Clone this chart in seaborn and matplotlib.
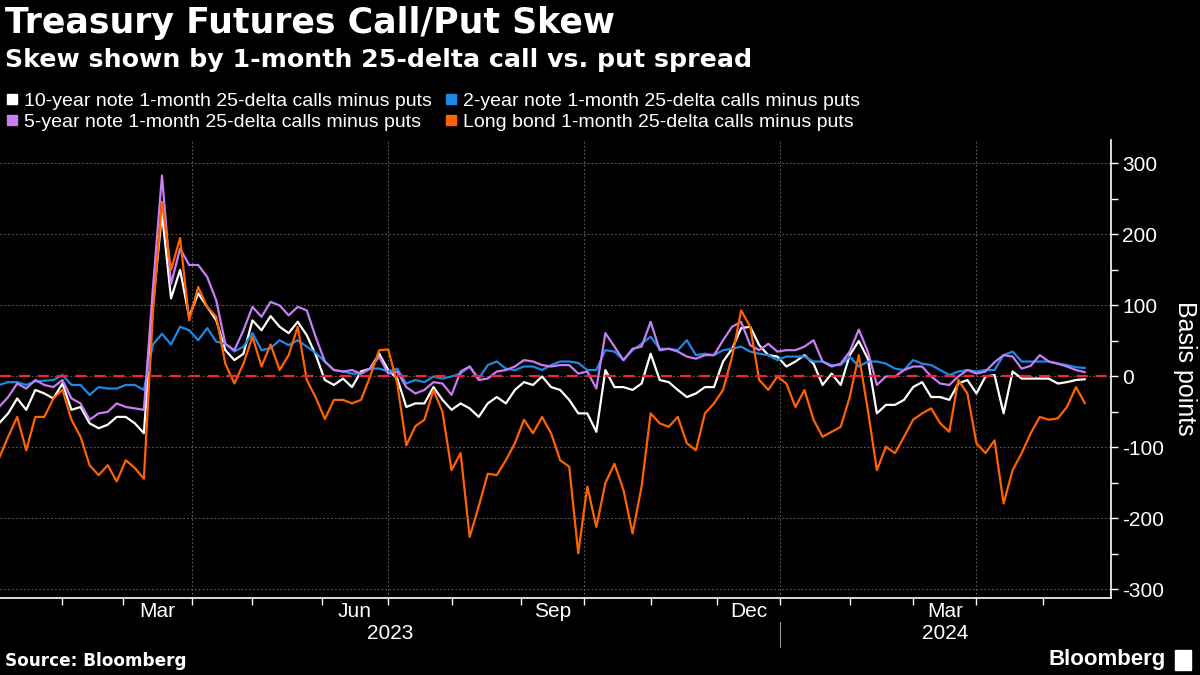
import numpy as np
import pandas as pd
import matplotlib
matplotlib.use("Agg")
import matplotlib.pyplot as plt
import seaborn as sns
from matplotlib.lines import Line2D
from matplotlib.patches import Rectangle
from matplotlib.transforms import blended_transform_factory

# skew in basis points, every third business day starting 3 Jan 2023
ten_year = [
    -66, -52, -31, -47, -19, -24, -31, -10, -47, -43,
    -66, -73, -68, -57, -57, -66, -80, 100, 230, 110,
    150, 84, 117, 98, 79, 37, 23, 32, 79, 65,
    85, 70, 61, 77, 58, 30, -5, -12, -3, -15,
    7, 11, 32, 9, -3, -43, -38, -38, -15, -33,
    -47, -38, -45, -57, -38, -29, -38, -19, -8, -12,
    0, -15, -19, -33, -52, -52, -78, 9, -15, -15,
    -19, -10, 32, -5, -8, -19, -29, -24, -15, -15,
    21, 39, 68, 70, 44, 30, 28, 14, 21, 30,
    18, -12, 4, -12, 30, 50, 25, -52, -40, -40,
    -33, -15, -8, -29, -29, -33, -10, -5, -24, 0,
    2, -52, 7, -3, -3, -3, -3, -10, -8, -5,
    -4,
]
five_year = [
    -43, -29, -10, -17, -5, -12, -15, -5, -31, -38,
    -61, -52, -50, -38, -43, -45, -47, 125, 283, 130,
    180, 157, 157, 140, 107, 46, 37, 65, 98, 84,
    105, 100, 86, 98, 93, 55, 21, 9, 7, 9,
    4, 11, 28, 4, 7, -15, -24, -19, -8, -10,
    -26, 7, 14, -5, -3, 7, 9, 14, 23, 21,
    16, 14, 16, 16, 4, 7, -17, 61, 42, 23,
    39, 42, 77, 37, 39, 35, 28, 25, 30, 30,
    51, 70, 77, 44, 37, 46, 35, 37, 37, 42,
    51, 21, 14, 18, 35, 66, 35, -12, 0, 0,
    9, 14, 14, 0, -10, -12, 0, 9, 4, 7,
    20, 30, 28, 11, 15, 30, 21, 18, 14, 9,
    6,
]
two_year = [
    -12, -8, -8, -12, -7, -6, -5, 2, -12, -12,
    -26, -15, -17, -17, -12, -12, -19, 45, 60, 45,
    70, 65, 51, 68, 49, 46, 35, 42, 61, 37,
    40, 51, 44, 51, 42, 33, 21, 9, 7, 4,
    4, 11, 11, 7, 11, -10, -5, -8, 0, -3,
    0, 4, 14, -3, 16, 21, 11, 9, 14, 14,
    9, 16, 21, 21, 19, 9, 9, 37, 35, 23,
    37, 46, 56, 39, 39, 37, 51, 30, 32, 30,
    37, 39, 42, 35, 32, 30, 23, 28, 28, 28,
    21, 21, 16, 16, 28, 14, 21, 21, 18, 11,
    9, 23, 18, 16, 9, 2, 7, 9, 7, 9,
    9, 30, 35, 21, 21, 21, 21, 18, 16, 13,
    12,
]
long_bond = [
    -115, -85, -57, -104, -57, -57, -31, -19, -61, -85,
    -125, -139, -125, -148, -118, -129, -144, 90, 246, 150,
    195, 79, 126, 98, 84, 18, -10, 18, 56, 14,
    45, 9, 30, 70, -5, -30, -60, -33, -33, -38,
    -33, 0, 37, 38, -10, -97, -70, -61, -19, -50,
    -132, -108, -226, -183, -137, -139, -118, -94, -61, -80,
    -57, -80, -118, -127, -249, -155, -212, -150, -123, -160,
    -221, -155, -52, -66, -71, -57, -94, -104, -52, -38,
    -19, 28, 93, 70, -5, -19, 0, -10, -43, -19,
    -61, -85, -78, -71, -29, 30, -47, -132, -99, -108,
    -85, -61, -52, -45, -66, -78, -5, -24, -94, -108,
    -90, -179, -132, -108, -80, -57, -61, -59, -43, -15,
    -38,
]

names = [
    "10-year note 1-month 25-delta calls minus puts",
    "2-year note 1-month 25-delta calls minus puts",
    "5-year note 1-month 25-delta calls minus puts",
    "Long bond 1-month 25-delta calls minus puts",
]
colors = ["#FFFFFF", "#1E88E5", "#C77DF3", "#FF6200"]
values = [ten_year, two_year, five_year, long_bond]

# the chart runs on a trading-day axis (weekends squeezed out)
all_days = pd.bdate_range("2023-01-03", "2024-05-31")
sample_pos = np.arange(len(all_days))[::3][:len(ten_year)]

df = pd.DataFrame({
    "pos": np.tile(sample_pos, len(names)),
    "bp": np.concatenate(values),
    "series": np.repeat(names, len(ten_year)),
})

sns.set_theme(style="dark")
plt.rcParams["font.family"] = ["Liberation Sans", "DejaVu Sans"]
plt.rcParams["axes.unicode_minus"] = False

fig = plt.figure(figsize=(12, 6.75), dpi=100, facecolor="black")
ax = fig.add_axes([0.0, 0.1141, 0.9258, 0.6785])
ax.set_facecolor("black")

sns.lineplot(data=df, x="pos", y="bp", hue="series", hue_order=names,
             palette=colors, estimator=None, sort=False, legend=False,
             linewidth=1.6, ax=ax)

ax.axhline(0, color="#F2243C", lw=1.6, ls=(0, (5, 3.5)), zorder=5)

# axes ranges
xlim = (0.3, 368.6)
ax.set_xlim(*xlim)
ax.set_ylim(-312, 333)
ax.set_xlabel("")
ax.set_ylabel("")

# y axis on the right
ax.yaxis.tick_right()
ax.set_yticks(np.arange(-300, 301, 100))
ax.set_yticks(np.arange(-300, 301, 50), minor=True)
ax.tick_params(axis="y", which="both", length=5, width=1, direction="out",
               color="white", labelcolor="white", labelsize=15, pad=3,
               left=False, right=True)
ax.yaxis.grid(True, which="major", color="#5c5c5c", ls=(0, (1.5, 2)), lw=0.8)
ax.xaxis.grid(False)

# month ticks and quarter labels
month_starts = pd.date_range("2023-02-01", "2024-05-01", freq="MS")
ax.set_xticks(all_days.searchsorted(month_starts), minor=True)
label_months = pd.to_datetime(["2023-03-01", "2023-06-01", "2023-09-01",
                               "2023-12-01", "2024-03-01"])
label_pos = [(all_days.searchsorted(m) + all_days.searchsorted(m + pd.offsets.MonthBegin(1))) / 2
             for m in label_months]
ax.set_xticks(label_pos)
ax.set_xticklabels([m.strftime("%b") for m in label_months])
ax.tick_params(axis="x", which="major", length=0, pad=3, labelsize=15,
               labelcolor="white")
ax.tick_params(axis="x", which="minor", length=5, width=1, direction="out",
               color="white", bottom=True)

for q in pd.date_range("2023-04-01", "2024-04-01", freq="QS"):
    ax.axvline(all_days.searchsorted(q), color="#5c5c5c", ls=(0, (1.5, 2)),
               lw=0.8, zorder=0)

for side in ["left", "top"]:
    ax.spines[side].set_visible(False)
for side in ["bottom", "right"]:
    ax.spines[side].set_color("white")
    ax.spines[side].set_linewidth(1.2)

# year labels under the months
trans = blended_transform_factory(ax.transData, ax.transAxes)
jan24 = all_days.searchsorted(pd.Timestamp("2024-01-01"))
ax.text((xlim[0] + jan24) / 2, -0.077, "2023", transform=trans, ha="center",
        va="center", color="white", fontsize=15)
ax.text((jan24 + xlim[1]) / 2, -0.077, "2024", transform=trans, ha="center",
        va="center", color="white", fontsize=15)
ax.plot([jan24, jan24], [-0.052, -0.107], transform=trans, color="#9a9a9a",
        lw=0.8, clip_on=False)

fig.text(1185 / 1200, 1 - 368 / 675, "Basis points", rotation=270, ha="center",
         va="center", color="white", fontsize=18)

# titles
fig.text(0.004, 1 - 23 / 675, "Treasury Futures Call/Put Skew", color="white",
         fontsize=25, fontweight="bold", va="center", family="DejaVu Sans")
fig.text(0.004, 1 - 60 / 675, "Skew shown by 1-month 25-delta call vs. put spread",
         color="white", fontsize=18.2, fontweight="bold", va="center",
         family="DejaVu Sans")

# legend, filled row by row
order = [0, 2, 1, 3]
handles = [Line2D([], [], ls="", marker="s", markersize=7.5, color=colors[i]) for i in order]
fig.legend(handles, [names[i] for i in order], loc="upper left",
           bbox_to_anchor=(0.004, 1 - 92 / 675), ncol=2, frameon=False,
           fontsize=14, labelcolor="white", handlelength=0.7, handletextpad=0.3,
           columnspacing=0.6, labelspacing=0.2, borderpad=0, borderaxespad=0)

# footer
fig.text(0.004, 1 - 661 / 675, "Source: Bloomberg", color="white", fontsize=12.2,
         fontweight="bold", va="center", family="DejaVu Sans")
fig.text(1166 / 1200, 1 - 660 / 675, "Bloomberg", color="white", fontsize=16,
         fontweight="bold", va="center", ha="right")
fig.patches.append(Rectangle((1175 / 1200, 1 - 670 / 675), 16 / 1200, 20 / 675,
                             transform=fig.transFigure, facecolor="white"))

fig.savefig("out.png", dpi=100, facecolor="black")
